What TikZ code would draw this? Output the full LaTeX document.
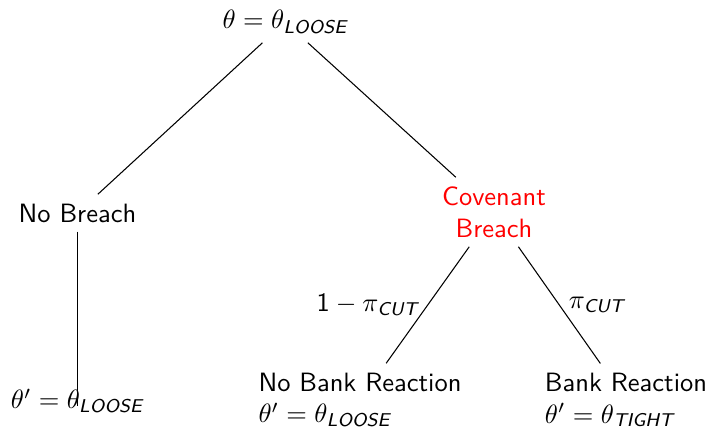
\documentclass[tikz,border=0pt]{standalone}
\usepackage{amsmath}
\newcommand{\subtxt}[1]{\textsf{\slshape #1}}
\begin{document}
\begin{tikzpicture}[x=0.3774pt,y=-0.3774pt,
  every node/.style={font=\sffamily},
  treeedge/.style={draw=black, line width=0.4pt}]
\useasboundingbox (0,0) rectangle (709,428);
\node (root) at (285,22) {$\theta = \theta_{\subtxt{LOOSE}}$};
\node (nb) at (77.5,213) {No Breach};
\node[text=red, align=center] (cb) at (494,212) {Covenant\\Breach};
\coordinate (nbend) at (77.5,406);
\node (leaf) at (77,401) {$\theta' = \theta_{\subtxt{LOOSE}}$};
\node[align=left] (nbr) at (360,400) {No Bank Reaction\\$\theta' = \theta_{\subtxt{LOOSE}}$};
\node[align=left] (br) at (626,400) {Bank Reaction\\$\theta' = \theta_{\subtxt{TIGHT}}$};
\draw[treeedge] (root) -- (nb);
\draw[treeedge] (root) -- (cb);
\draw[treeedge] (nb) -- (nbend);
\draw[treeedge] (cb) -- node[left] {$\textsf{1} - \pi_{\subtxt{CUT}}$} (nbr);
\draw[treeedge] (cb) -- node[right] {$\pi_{\subtxt{CUT}}$} (br);
\end{tikzpicture}
\end{document}
